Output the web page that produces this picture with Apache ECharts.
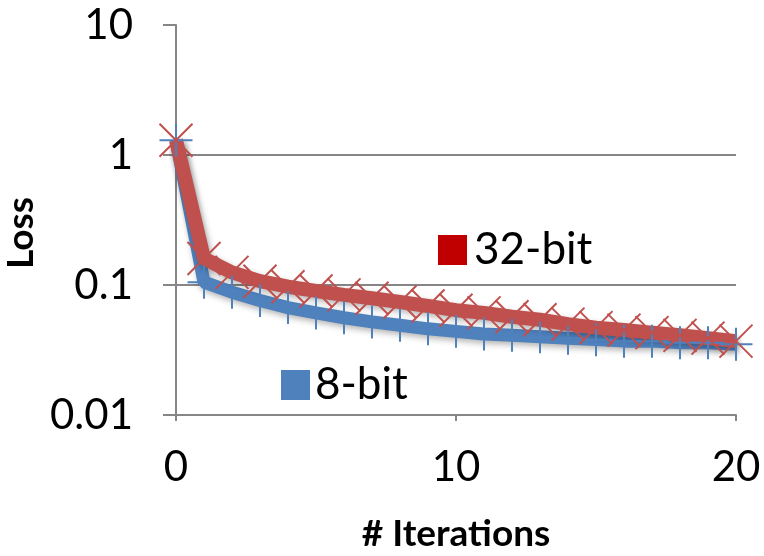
<!DOCTYPE html>
<html>
<head>
<meta charset="utf-8">
<script src="https://cdn.jsdelivr.net/npm/echarts@6/dist/echarts.min.js"></script>
<style>
  html, body { margin: 0; padding: 0; background: #fff; }
  #myChart { width: 764px; height: 556px; }
</style>
</head>
<body>
<div id="myChart"></div>
<script>
// iterations 0..20
var iterations = [0, 1, 2, 3, 4, 5, 6, 7, 8, 9, 10, 11, 12, 13, 14, 15, 16, 17, 18, 19, 20];
var loss8bit = [1.3, 0.105, 0.088, 0.076, 0.067, 0.061, 0.056, 0.052, 0.049, 0.046, 0.044,
                0.042, 0.041, 0.040, 0.039, 0.038, 0.037, 0.037, 0.036, 0.036, 0.035];
var loss32bit = [1.3, 0.16, 0.125, 0.107, 0.097, 0.09, 0.084, 0.079, 0.074, 0.069, 0.064,
                 0.061, 0.057, 0.054, 0.05, 0.047, 0.045, 0.043, 0.041, 0.039, 0.037];
var xTicks = [0, 10, 20];
var yTicks = [0.01, 0.1, 1, 10];

function pairs(xs, ys) {
  var out = [];
  for (var i = 0; i < xs.length; i++) out.push([xs[i], ys[i]]);
  return out;
}

var font = 'Lato';
var gray = '#868686';
var blue = '#4F81BD';
var red = '#C0504D';

var myChart = echarts.init(document.getElementById('myChart'));
var option = {
  animation: false,
  textStyle: { fontFamily: font },
  grid: { left: 176, right: 28, top: 25, bottom: 141, containLabel: false, outerBoundsMode: 'none' },
  legend: [
    {
      left: 433, top: 223,
      icon: 'rect', itemWidth: 29, itemHeight: 30,
      selectedMode: false,
      textStyle: { fontSize: 44, color: '#000', fontFamily: font, padding: [0, 0, 0, 2] },
      data: [{ name: '32-bit', itemStyle: { color: '#C00000', borderWidth: 0 } }]
    },
    {
      left: 276, top: 358,
      icon: 'rect', itemWidth: 29, itemHeight: 30,
      selectedMode: false,
      textStyle: { fontSize: 44, color: '#000', fontFamily: font },
      data: [{ name: '8-bit', itemStyle: { color: blue, borderWidth: 0 } }]
    }
  ],
  xAxis: {
    type: 'value',
    min: xTicks[0], max: xTicks[xTicks.length - 1], interval: 10,
    name: '# Iterations',
    nameLocation: 'middle', nameGap: 101,
    nameTextStyle: { fontSize: 37, fontWeight: 'bold', color: '#000', fontFamily: font },
    axisLine: { show: true, lineStyle: { color: gray, width: 2 } },
    axisTick: { show: true, length: 6, lineStyle: { color: gray, width: 2 } },
    axisLabel: { fontSize: 42, color: '#000', margin: 31, fontFamily: font },
    splitLine: { show: false }
  },
  yAxis: {
    type: 'log', logBase: 10,
    min: yTicks[0], max: yTicks[yTicks.length - 1],
    name: 'Loss',
    nameLocation: 'middle', nameGap: 123,
    nameTextStyle: { fontSize: 37, fontWeight: 'bold', color: '#000', fontFamily: font, padding: [0, 26, 0, 0] },
    axisLine: { show: true, lineStyle: { color: gray, width: 2 } },
    axisTick: { show: true, length: 13, lineStyle: { color: gray, width: 2 } },
    axisLabel: {
      fontSize: 42, color: '#000', margin: 43, fontFamily: font,
      formatter: function (v) { return String(v); }
    },
    splitLine: { show: true, showMinLine: false, showMaxLine: false, lineStyle: { color: gray, width: 2 } }
  },
  series: [
    {
      name: '8-bit',
      type: 'line',
      data: pairs(iterations, loss8bit),
      symbol: 'path://M0,16L32,16M16,0L16,32',
      symbolSize: 33,
      showAllSymbol: true,
      lineStyle: { color: blue, width: 13, shadowColor: 'rgba(0,0,0,0.3)', shadowBlur: 6, shadowOffsetX: 2, shadowOffsetY: 3 },
      itemStyle: { color: 'rgba(0,0,0,0)', borderColor: blue, borderWidth: 2 },
      emphasis: { disabled: true }
    },
    {
      name: '32-bit',
      type: 'line',
      data: pairs(iterations, loss32bit),
      symbol: 'path://M0,0L32,32M32,0L0,32',
      symbolSize: 33,
      showAllSymbol: true,
      lineStyle: { color: red, width: 14, shadowColor: 'rgba(0,0,0,0.3)', shadowBlur: 6, shadowOffsetX: 2, shadowOffsetY: 3 },
      itemStyle: { color: 'rgba(0,0,0,0)', borderColor: red, borderWidth: 2 },
      emphasis: { disabled: true }
    }
  ]
};
myChart.setOption(option);
</script>
</body>
</html>
